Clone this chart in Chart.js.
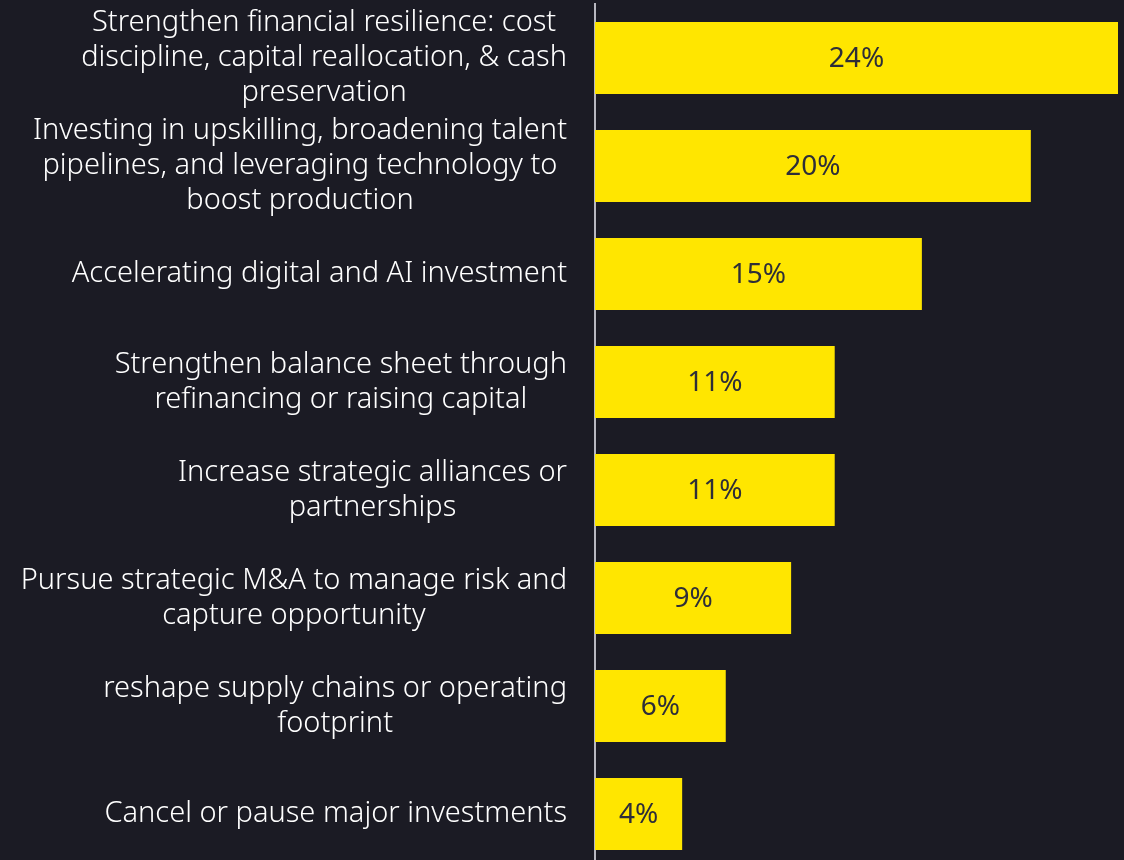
<!DOCTYPE html>
<html>
<head>
    <title>Strategic priorities</title>
    <script src="https://cdn.jsdelivr.net/npm/chart.js"></script>
    <style>
        html, body {
            margin: 0;
            padding: 0;
            background-color: #1b1b24;
            overflow: hidden;
        }
        .chart-container {
            position: relative;
            width: 1124px;
            height: 868px;
        }
    </style>
</head>
<body>
    <div class="chart-container">
        <canvas id="priorityChart"></canvas>
    </div>

    <script>
        // each category is a list of lines, as wrapped in the original
        const categories = [
            ['Strengthen financial resilience: cost', 'discipline, capital reallocation, & cash', 'preservation'],
            ['Investing in upskilling, broadening talent', 'pipelines, and leveraging technology to', 'boost production'],
            ['Accelerating digital and AI investment'],
            ['Strengthen balance sheet through', 'refinancing or raising capital'],
            ['Increase strategic alliances or', 'partnerships'],
            ['Pursue strategic M&A to manage risk and', 'capture opportunity'],
            ['reshape supply chains or operating', 'footprint'],
            ['Cancel or pause major investments']
        ];
        const shares = [24, 20, 15, 11, 11, 9, 6, 4];

        const labelFont = '300 29px "Noto Sans", sans-serif';
        const valueFont = '400 28px "Noto Sans", sans-serif';

        // category labels: block right aligned, lines centred within block
        const categoryLabels = {
            id: 'categoryLabels',
            afterDraw(chart) {
                const ctx = chart.ctx;
                const yScale = chart.scales.y;
                const rightEdge = chart.chartArea.left - 28;
                const lineHeight = 35;
                ctx.save();
                ctx.font = labelFont;
                ctx.fillStyle = '#ffffff';
                ctx.textAlign = 'center';
                ctx.textBaseline = 'middle';
                categories.forEach((lines, i) => {
                    const yc = yScale.getPixelForValue(i);
                    const widest = Math.max(...lines.map(l => ctx.measureText(l).width));
                    const xc = rightEdge - widest / 2;
                    const top = yc - (lines.length - 1) * lineHeight / 2;
                    lines.forEach((l, j) => ctx.fillText(l, xc, top + j * lineHeight));
                });
                ctx.restore();
            }
        };

        // value labels in the middle of each bar
        const valueLabels = {
            id: 'valueLabels',
            afterDatasetsDraw(chart) {
                const ctx = chart.ctx;
                const meta = chart.getDatasetMeta(0);
                ctx.save();
                ctx.font = valueFont;
                ctx.fillStyle = '#2e2e38';
                ctx.textAlign = 'center';
                ctx.textBaseline = 'middle';
                meta.data.forEach((bar, i) => {
                    const x = (bar.x + bar.base) / 2;
                    ctx.fillText(shares[i] + '%', x, bar.y + 1);
                });
                ctx.restore();
            }
        };

        const ctx = document.getElementById('priorityChart').getContext('2d');
        new Chart(ctx, {
            type: 'bar',
            data: {
                labels: categories,
                datasets: [{
                    data: shares,
                    backgroundColor: '#ffe600',
                    borderWidth: 0,
                    barPercentage: 1,
                    categoryPercentage: 72 / 108
                }]
            },
            options: {
                indexAxis: 'y',
                responsive: true,
                maintainAspectRatio: false,
                animation: false,
                layout: {
                    padding: { top: 4, right: 6, bottom: 0, left: 0 }
                },
                scales: {
                    x: {
                        display: false,
                        min: 0,
                        max: 24
                    },
                    y: {
                        afterFit(scale) { scale.width = 595; },
                        grid: { display: false },
                        border: { display: true, color: '#b8b8c0', width: 2 },
                        ticks: { display: false }
                    }
                },
                plugins: {
                    legend: { display: false },
                    tooltip: { enabled: false }
                }
            },
            plugins: [categoryLabels, valueLabels]
        });
    </script>
</body>
</html>
